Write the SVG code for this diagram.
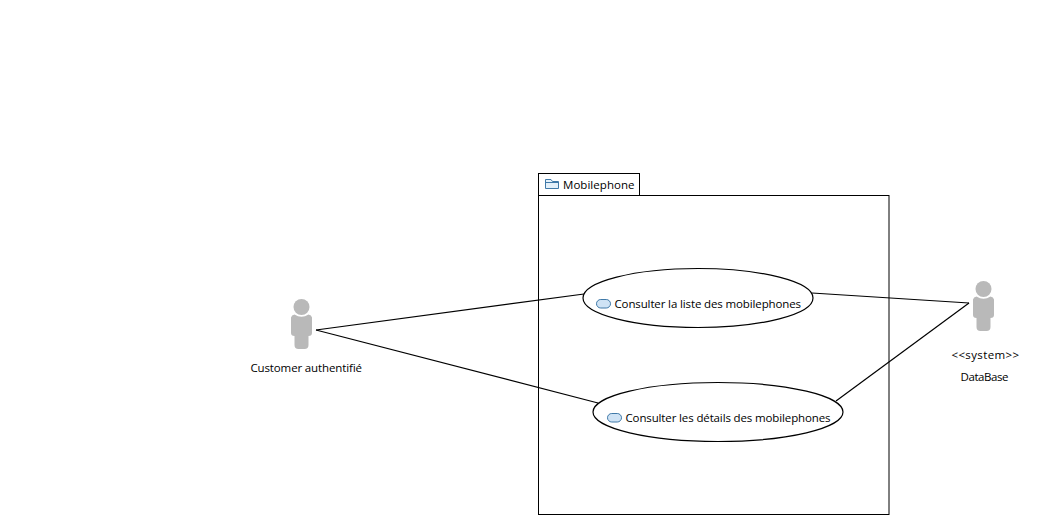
<svg xmlns="http://www.w3.org/2000/svg" width="1045" height="524" viewBox="0 0 1045 524">
<style>
text{font-family:"Open Sans","Noto Sans","Liberation Sans",sans-serif;font-size:11.500px;fill:#000}
.box{fill:#fff;stroke:#000;stroke-width:1}
.uc{fill:#fff;stroke:#000;stroke-width:1.200}
.ico{fill:#cfe3f5;stroke:#3f79a8;stroke-width:1}
.actor{fill:#b9b9b9}
.c{fill:none;stroke:#000;stroke-width:1.200}
</style>
<defs>
<g id="actor">
<circle cx="0" cy="-23" r="8" class="actor"/>
<path class="actor" d="M-10.500-12.500Q-10-15-7-15.500Q0-11 7-15.500Q10-15 10.500-12.500V3Q10.500 6 7 6V15Q7 19 3 19H-3Q-7 19-7 15V6Q-10.500 6-10.500 3Z"/>
</g>
</defs>
<g id="package-mobilephone">
<rect class="box" x="538.500" y="173.500" width="101" height="22"/>
<rect class="box" x="538.500" y="195.500" width="350.500" height="319"/>
<path d="M545.500 188.500V179.500H551L552.500 181.500H558.500V188.500Z" fill="#e3f0fa" stroke="#3f79a8"/>
<path d="M545.500 182.500H558.500" fill="none" stroke="#3f79a8"/>
<text x="563" y="189" textLength="71.500">Mobilephone</text>
</g>
<g id="connectors">
<line class="c" x1="316" y1="330" x2="584" y2="294"/>
<line class="c" x1="316" y1="330" x2="598" y2="403"/>
<line class="c" x1="812" y1="293" x2="969" y2="303"/>
<line class="c" x1="836" y1="401" x2="969" y2="303"/>
</g>
<g id="usecase-liste">
<ellipse class="uc" cx="698" cy="298" rx="115" ry="29.500"/>
<rect class="ico" x="596.500" y="299.500" width="14" height="8.500" rx="4.250"/>
<text x="614.500" y="308" textLength="186.500">Consulter la liste des mobilephones</text>
</g>
<g id="usecase-details">
<ellipse class="uc" cx="718" cy="412" rx="125" ry="29.500"/>
<rect class="ico" x="607.500" y="413.500" width="14" height="8.500" rx="4.250"/>
<text x="625.500" y="422" textLength="205">Consulter les détails des mobilephones</text>
</g>
<g id="actor-customer">
<use href="#actor" x="301.500" y="330"/>
<text x="250.500" y="372" textLength="111.500">Customer authentifié</text>
</g>
<g id="actor-database">
<use href="#actor" x="983.500" y="312"/>
<text x="951.500" y="359" textLength="67.500">&lt;&lt;system&gt;&gt;</text>
<text x="960.500" y="381" textLength="48">DataBase</text>
</g>
</svg>
